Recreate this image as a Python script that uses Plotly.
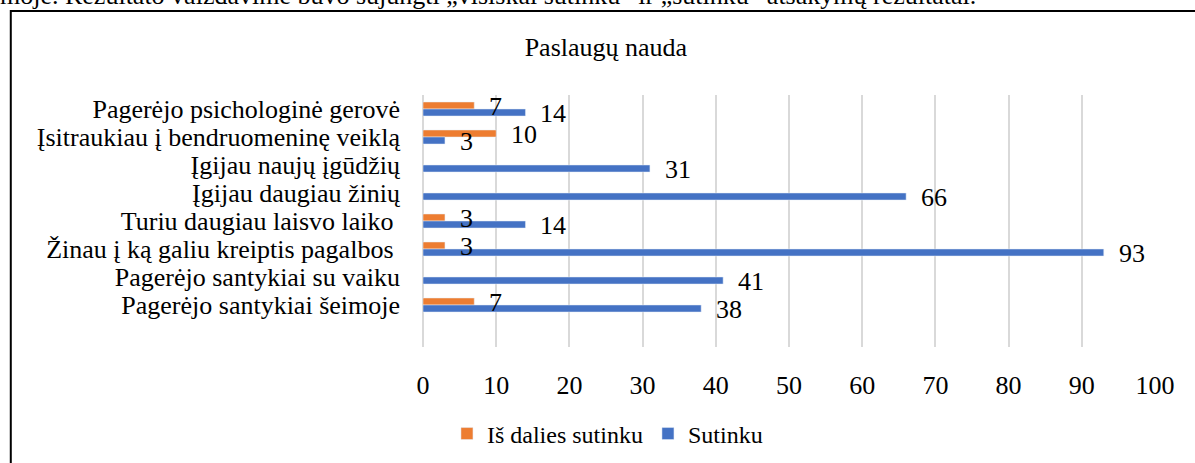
import plotly.graph_objects as go

# ---- data (top to bottom, as shown) ----
categories = [
    "Pagerėjo psichologinė gerovė",
    "Įsitraukiau į bendruomeninę veiklą",
    "Įgijau naujų įgūdžių",
    "Įgijau daugiau žinių",
    "Turiu daugiau laisvo laiko ",
    "Žinau į ką galiu kreiptis pagalbos ",
    "Pagerėjo santykiai su vaiku",
    "Pagerėjo santykiai šeimoje",
]
is_dalies = [7, 10, None, None, 3, 3, None, 7]
sutinku = [14, 3, 31, 66, 14, 93, 41, 38]
series_names = ["Iš dalies sutinku", "Sutinku"]
title_text = "Paslaugų nauda"
top_text = ("moje. Rezultato vaizdavime buvo sujungti „visiškai sutinku“ ir "
            "„sutinku“ atsakymų rezultatai.")
x_ticks = list(range(0, 101, 10))

ORANGE = "#ED7D31"
BLUE = "#4472C4"
FONT = "Liberation Serif, Times New Roman, serif"

fig = go.Figure()
fig.add_trace(go.Bar(y=categories, x=is_dalies, orientation="h", name=series_names[0],
                     marker=dict(color=ORANGE), legendrank=1, hoverinfo="skip"))
fig.add_trace(go.Bar(y=categories, x=sutinku, orientation="h", name=series_names[1],
                     marker=dict(color=BLUE), legendrank=2, hoverinfo="skip"))

# data labels via annotations (outside end)
annotations = []
for i, v in enumerate(is_dalies):
    if v is not None:
        annotations.append(dict(x=v, y=i - 0.125, xref="x", yref="y", text=str(v),
                                 showarrow=False, xanchor="left", yanchor="middle",
                                 xshift=13, yshift=-1,
                                 font=dict(family=FONT, size=26, color="black")))
for i, v in enumerate(sutinku):
    if v is not None:
        annotations.append(dict(x=v, y=i + 0.125, xref="x", yref="y", text=str(v),
                                 showarrow=False, xanchor="left", yanchor="middle",
                                 xshift=13, yshift=-1,
                                 font=dict(family=FONT, size=26, color="black")))
# cut-off document text at the very top
annotations.append(dict(x=-0.58, y=1.329, xref="paper", yref="paper", text=top_text,
                        showarrow=False, xanchor="left", yanchor="bottom",
                        font=dict(family=FONT, size=26, color="black")))

fig.update_layout(
    width=1195, height=463,
    margin=dict(l=422.5, r=40, t=95, b=116, autoexpand=False),
    paper_bgcolor="white", plot_bgcolor="white",
    barmode="group", bargap=0.5, bargroupgap=0,
    font=dict(family=FONT, size=26, color="black"),
    title=dict(text=title_text, xref="container", x=0.507, xanchor="center",
               yref="container", y=1 - 47 / 463, yanchor="middle",
               font=dict(family=FONT, size=26, color="black")),
    xaxis=dict(range=[0, 100], tickmode="array", tickvals=x_ticks, showgrid=True,
               gridcolor="#d9d9d9", gridwidth=1.5, zeroline=True,
               zerolinecolor="#d9d9d9", zerolinewidth=1.5,
               showline=False, ticks="", ticklabelstandoff=20, automargin=False,
               tickfont=dict(family=FONT, size=26, color="black")),
    yaxis=dict(type="category", categoryorder="array", categoryarray=categories,
               tickmode="array", tickvals=categories, ticktext=categories,
               range=[8.5, -0.5], showgrid=False, zeroline=False, showline=False,
               ticks="", ticklabelstandoff=22, automargin=False,
               tickfont=dict(family=FONT, size=26, color="black")),
    legend=dict(orientation="h", x=0.252, xanchor="center", y=-0.345, yanchor="middle",
                font=dict(family=FONT, size=24, color="black"), bgcolor="rgba(0,0,0,0)"),
    showlegend=True,
    annotations=annotations,
    shapes=[dict(type="rect", xref="paper", yref="paper",
                 x0=(10 - 422.5) / 732.5, x1=(1210 - 422.5) / 732.5,
                 y0=(347 - 480) / 252, y1=1 + (95 - 11) / 252,
                 line=dict(color="black", width=2), fillcolor="rgba(0,0,0,0)")],
)

fig.write_html("out.html", config={"displayModeBar": False},
               post_script="document.body.style.margin='0';document.body.style.overflow='hidden';")
